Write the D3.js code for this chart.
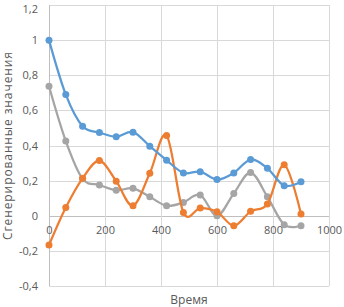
<!DOCTYPE html>
<html><head><meta charset="utf-8">
<script src="https://cdn.jsdelivr.net/npm/d3@7"></script>
<style>body{margin:0;background:#fff}svg{display:block}text{font-family:"Open Sans",sans-serif;fill:#595959}</style>
</head><body><svg id="c" width="344" height="307"></svg>
<script>
const xValues = [0,60,120,180,240,300,360,420,480,540,600,660,720,780,840,900];
const blue   = [1.0,0.69,0.51,0.474,0.45,0.476,0.396,0.316,0.244,0.251,0.206,0.244,0.32,0.27,0.171,0.194];
const orange = [-0.167,0.047,0.213,0.314,0.197,0.057,0.242,0.457,0.019,0.044,0.023,-0.057,0.025,0.067,0.29,0.01];
const gray   = [0.737,0.425,0.21,0.175,0.145,0.156,0.108,0.057,0.076,0.118,0.0,0.127,0.246,0.108,-0.051,-0.057];
const xTicks = [0,200,400,600,800,1000];
const yTicks = [-0.4,-0.2,0,0.2,0.4,0.6,0.8,1.0,1.2];
const yTitle = "Сгенерированные значения";
const xTitle = "Время";

const svg = d3.select("#c");
const x = d3.scaleLinear().domain([0,1000]).range([49,329]);
const y = d3.scaleLinear().domain([-0.4,1.2]).range([286,5]);
const fy = d => String(+d.toFixed(1)).replace(".",",");

// gridlines
svg.append("g").selectAll("line").data(yTicks).join("line")
  .attr("x1",x(0)).attr("x2",x(1000)).attr("y1",d=>Math.round(y(d))+0.5).attr("y2",d=>Math.round(y(d))+0.5)
  .attr("stroke",d=>d===0?"#BFBFBF":"#D9D9D9").attr("stroke-width",1);
svg.append("g").selectAll("line").data(xTicks).join("line")
  .attr("y1",y(1.2)).attr("y2",y(-0.4)).attr("x1",d=>Math.round(x(d))+0.5).attr("x2",d=>Math.round(x(d))+0.5)
  .attr("stroke",d=>d===0?"#BFBFBF":"#D9D9D9").attr("stroke-width",1);

// y axis labels
const ya = svg.append("g").attr("transform","translate(38,0)")
  .call(d3.axisLeft(y).tickValues(yTicks).tickFormat(fy).tickSize(0).tickPadding(0));
ya.select(".domain").remove();
ya.selectAll("text").style("font-size","11px").attr("fill","#595959").attr("font-family","'Open Sans',sans-serif")
  .attr("dy", d => d===1.2 ? "0.7em" : "0.32em");

// x axis labels at zero line
const xa = svg.append("g").attr("transform",`translate(0,${y(0)})`)
  .call(d3.axisBottom(x).tickValues(xTicks).tickFormat(d=>String(d)).tickSize(0).tickPadding(10));
xa.select(".domain").remove();
xa.selectAll("text").style("font-size","11px").attr("fill","#595959").attr("font-family","'Open Sans',sans-serif");

// series
const series = [{v:gray,c:"#A5A5A5"},{v:orange,c:"#ED7D31"},{v:blue,c:"#5B9BD5"}];
const line = d3.line().x(d=>x(d[0])).y(d=>y(d[1])).curve(d3.curveCardinal.tension(0));
series.forEach(s=>{
  const pts = xValues.map((xv,i)=>[xv,s.v[i]]);
  svg.append("path").attr("d",line(pts)).attr("fill","none").attr("stroke",s.c).attr("stroke-width",2.25).attr("stroke-linejoin","round");
  svg.append("g").selectAll("circle").data(pts).join("circle")
    .attr("cx",d=>x(d[0])).attr("cy",d=>y(d[1])).attr("r",3.5).attr("fill",s.c);
});

// titles
svg.append("text").attr("x",189).attr("y",304).attr("text-anchor","middle").style("font-size","12px").text(xTitle);
svg.append("text").attr("transform","translate(12,146) rotate(-90)").attr("text-anchor","middle")
  .style("font-size","12px").attr("textLength",188).attr("lengthAdjust","spacing").text(yTitle);
</script></body></html>
